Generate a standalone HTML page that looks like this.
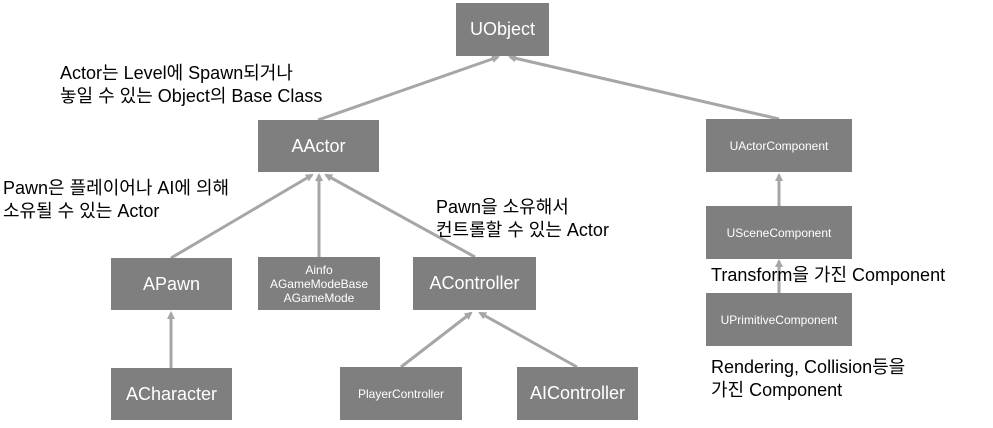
<!DOCTYPE html>
<html><head><meta charset="utf-8"><style>
body{margin:0;width:993px;height:428px;background:#fff;position:relative;overflow:hidden;font-family:"Liberation Sans","Noto Sans CJK KR",sans-serif}
.b{position:absolute;background:#7f7f7f;color:#fff;display:flex;align-items:center;justify-content:center;text-align:center}
.t{position:absolute;color:#000;font-size:18px;line-height:23px;white-space:nowrap}
svg{position:absolute;left:0;top:0}
</style></head><body>
<svg width="993" height="428">
<defs><marker id="a" markerWidth="8" markerHeight="8" refX="6" refY="4" orient="auto" markerUnits="userSpaceOnUse"><path d="M0,0 L8,4 L0,8 z" fill="#a6a6a6"/></marker></defs>
<g stroke="#a6a6a6" stroke-width="3" marker-end="url(#a)">
<line x1="318" y1="120" x2="498" y2="57"/>
<line x1="779" y1="119" x2="510" y2="57"/>
<line x1="171" y1="258" x2="312" y2="175"/>
<line x1="319" y1="257" x2="319" y2="175"/>
<line x1="475" y1="257" x2="326" y2="175"/>
<line x1="171" y1="368" x2="171" y2="313"/>
<line x1="401" y1="367" x2="471" y2="313"/>
<line x1="577" y1="367" x2="480" y2="313"/>
<line x1="779" y1="206" x2="779" y2="175"/>
<line x1="779" y1="293" x2="779" y2="261"/>
</g></svg>
<div class="b" style="left:456px;top:3px;width:93px;height:53px;font-size:18px">UObject</div>
<div class="b" style="left:258px;top:120px;width:121px;height:52px;font-size:18px">AActor</div>
<div class="b" style="left:706px;top:119px;width:146px;height:53px;font-size:12px">UActorComponent</div>
<div class="b" style="left:706px;top:206px;width:146px;height:53px;font-size:12px">USceneComponent</div>
<div class="b" style="left:706px;top:293px;width:146px;height:53px;font-size:12px">UPrimitiveComponent</div>
<div class="b" style="left:111px;top:258px;width:121px;height:52px;font-size:18px">APawn</div>
<div class="b" style="left:258px;top:257px;width:122px;height:53px;font-size:12px;line-height:14px">Ainfo<br>AGameModeBase<br>AGameMode</div>
<div class="b" style="left:413px;top:257px;width:123px;height:53px;font-size:18px">AController</div>
<div class="b" style="left:111px;top:368px;width:121px;height:52px;font-size:18px">ACharacter</div>
<div class="b" style="left:340px;top:367px;width:122px;height:53px;font-size:12px">PlayerController</div>
<div class="b" style="left:517px;top:367px;width:121px;height:53px;font-size:18px">AIController</div>
<div class="t" style="left:60px;top:62px">Actor는 Level에 Spawn되거나<br>놓일 수 있는 Object의 Base Class</div>
<div class="t" style="left:3px;top:177px">Pawn은 플레이어나 AI에 의해<br>소유될 수 있는 Actor</div>
<div class="t" style="left:436px;top:196px">Pawn을 소유해서<br>컨트롤할 수 있는 Actor</div>
<div class="t" style="left:711px;top:264px">Transform을 가진 Component</div>
<div class="t" style="left:711px;top:356px">Rendering, Collision등을<br>가진 Component</div>
</body></html>
